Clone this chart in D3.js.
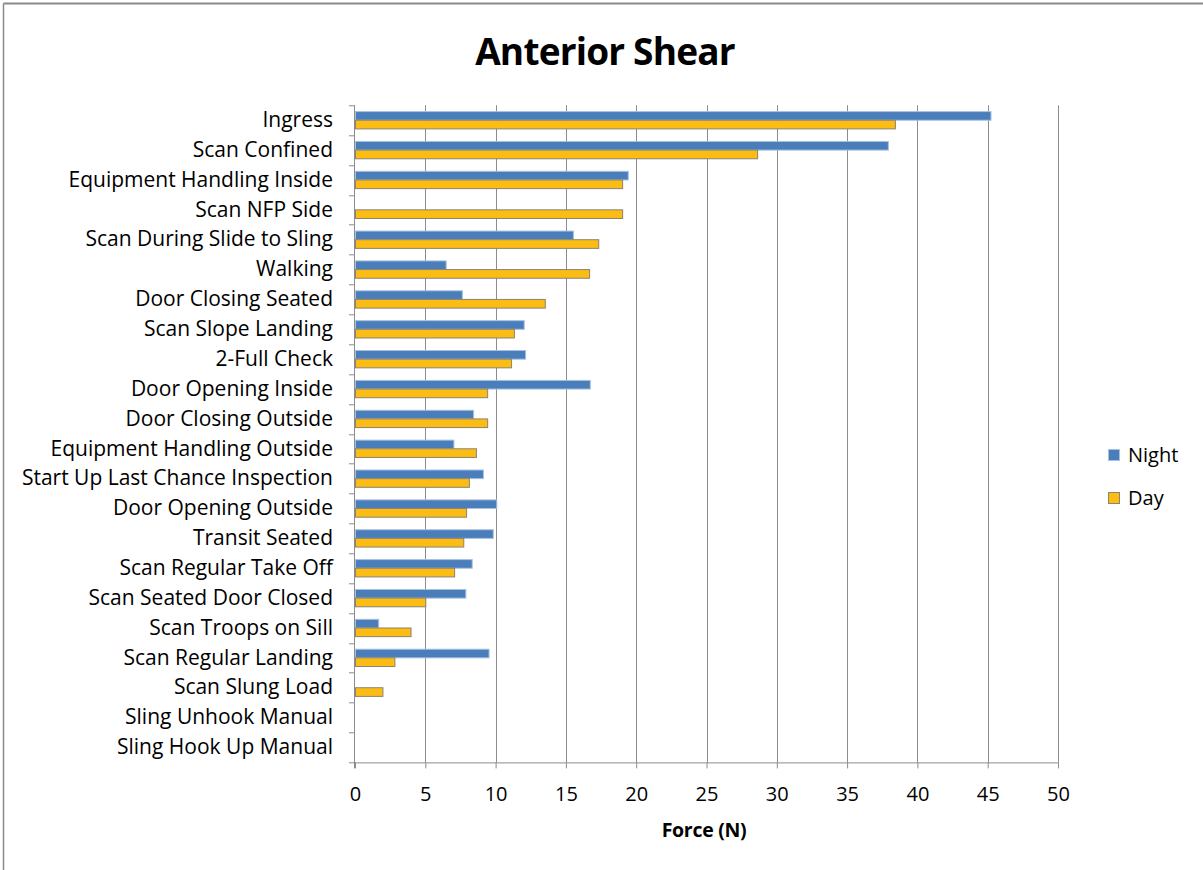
<!DOCTYPE html>
<html>
<head>
<meta charset="utf-8">
<script src="https://cdn.jsdelivr.net/npm/d3@7"></script>
<style>
  body { margin: 0; background: #fff; }
  svg { display: block; font-family: "Open Sans", "Noto Sans", sans-serif; }
</style>
</head>
<body>
<div id="chart"></div>
<script>
var svgWidth = 1203;
var svgHeight = 870;

var margin = { top: 105.3, right: 145, bottom: 107.6, left: 355 };
var width = 1058 - margin.left;
var height = svgHeight - margin.top - margin.bottom;

// Activities, top to bottom
var categories = [
  "Ingress", "Scan Confined", "Equipment Handling Inside", "Scan NFP Side",
  "Scan During Slide to Sling", "Walking", "Door Closing Seated", "Scan Slope Landing",
  "2-Full Check", "Door Opening Inside", "Door Closing Outside", "Equipment Handling Outside",
  "Start Up Last Chance Inspection", "Door Opening Outside", "Transit Seated",
  "Scan Regular Take Off", "Scan Seated Door Closed", "Scan Troops on Sill",
  "Scan Regular Landing", "Scan Slung Load", "Sling Unhook Manual", "Sling Hook Up Manual"
];

var nightValues = [45.2, 37.9, 19.4, 0, 15.5, 6.45, 7.6, 12.0, 12.1, 16.7, 8.4, 7.0,
  9.1, 10.05, 9.8, 8.3, 7.85, 1.65, 9.5, 0, 0, 0];
var dayValues = [38.4, 28.6, 19.0, 19.0, 17.3, 16.65, 13.5, 11.3, 11.1, 9.4, 9.4, 8.6,
  8.1, 7.9, 7.7, 7.05, 5.0, 3.95, 2.8, 1.95, 0, 0];

var seriesNames = ["Night", "Day"];
var xTicks = [0, 5, 10, 15, 20, 25, 30, 35, 40, 45, 50];

var colours = { Night: "#4a7ebb", Day: "#fbbd14" };
var strokes = { Night: "#a9c1e0", Day: "#8c8370" };

var svg = d3.select("#chart")
  .append("svg")
  .attr("width", svgWidth)
  .attr("height", svgHeight);

// outer frame (only top and left edges show in the picture)
svg.append("line").attr("x1", 3.5).attr("x2", svgWidth).attr("y1", 3.5).attr("y2", 3.5)
  .attr("stroke", "#8a8a8a").attr("stroke-width", 2);
svg.append("line").attr("x1", 3.5).attr("x2", 3.5).attr("y1", 3.5).attr("y2", svgHeight)
  .attr("stroke", "#8a8a8a").attr("stroke-width", 1.5);

svg.append("text")
  .attr("x", 605)
  .attr("y", 65)
  .attr("text-anchor", "middle")
  .style("font-size", "37px")
  .style("font-weight", "bold")
  .style("letter-spacing", "-0.8px")
  .text("Anterior Shear");

var chartGroup = svg.append("g")
  .attr("transform", `translate(${margin.left}, ${margin.top})`);

var xScale = d3.scaleLinear().domain([0, 50]).range([0, width]);
var yScale = d3.scaleBand().domain(categories).range([0, height])
  .paddingInner(0.42).paddingOuter(0.21);
var ySub = d3.scaleBand().domain(seriesNames).range([0, yScale.bandwidth()]);

// gridlines
chartGroup.selectAll(".grid")
  .data(xTicks.slice(1))
  .enter()
  .append("line")
  .attr("x1", d => Math.round(xScale(d)) + 0.5)
  .attr("x2", d => Math.round(xScale(d)) + 0.5)
  .attr("y1", 0)
  .attr("y2", height)
  .attr("stroke", "#8c8c8c")
  .attr("stroke-width", 1);

// bars
var rows = categories.map((c, i) => ({ cat: c, Night: nightValues[i], Day: dayValues[i] }));

var groupedBars = chartGroup.selectAll(".row")
  .data(rows)
  .enter()
  .append("g")
  .attr("transform", d => `translate(0, ${yScale(d.cat)})`);

groupedBars.selectAll("rect")
  .data(d => seriesNames.map(s => ({ key: s, value: d[s] })).filter(e => e.value > 0))
  .enter()
  .append("rect")
  .attr("x", 0.5)
  .attr("y", d => ySub(d.key))
  .attr("width", d => xScale(d.value))
  .attr("height", ySub.bandwidth())
  .attr("fill", d => colours[d.key])
  .attr("stroke", d => strokes[d.key])
  .attr("stroke-width", 1);

// axes
var bottomAxis = d3.axisBottom(xScale).tickValues(xTicks).tickSize(6).tickPadding(18);
var xAxis = chartGroup.append("g")
  .attr("transform", `translate(0, ${height})`)
  .call(bottomAxis);
xAxis.select(".domain").attr("stroke", "#8c8c8c").attr("d", `M0,0.5H${width}`);
xAxis.selectAll(".tick line").attr("stroke", "#8c8c8c");
xAxis.selectAll("text")
  .style("font-size", "20px")
  .style("font-family", "Open Sans, sans-serif")
  .attr("fill", "#000");

var leftAxis = d3.axisLeft(yScale).tickSize(0).tickPadding(22);
var yAxis = chartGroup.append("g").call(leftAxis);
yAxis.select(".domain").remove();
yAxis.selectAll("text")
  .style("font-size", "21px")
  .style("font-family", "Open Sans, sans-serif")
  .attr("fill", "#000");

// left axis line and ticks at category boundaries
chartGroup.append("line")
  .attr("x1", -0.5).attr("x2", -0.5).attr("y1", 0).attr("y2", height + 6)
  .attr("stroke", "#8c8c8c");
chartGroup.selectAll(".ytick")
  .data(d3.range(categories.length + 1))
  .enter()
  .append("line")
  .attr("x1", -6).attr("x2", 0)
  .attr("y1", i => Math.round(i * yScale.step()) + 0.5)
  .attr("y2", i => Math.round(i * yScale.step()) + 0.5)
  .attr("stroke", "#8c8c8c");

// axis title
svg.append("text")
  .attr("x", 704)
  .attr("y", 837)
  .attr("text-anchor", "middle")
  .style("font-size", "19.5px")
  .style("font-weight", "bold")
  .style("letter-spacing", "-0.3px")
  .text("Force (N)");

// legend
var legend = svg.append("g").attr("transform", "translate(1108, 455)");
seriesNames.forEach(function(s, i) {
  var g = legend.append("g").attr("transform", `translate(0, ${i * 43})`);
  g.append("rect")
    .attr("x", 0.5).attr("y", -5.5).attr("width", 11).attr("height", 11)
    .attr("fill", colours[s])
    .attr("stroke", strokes[s]);
  g.append("text")
    .attr("x", 20)
    .attr("y", 7)
    .style("font-size", "20px")
    .text(s);
});
</script>
</body>
</html>
